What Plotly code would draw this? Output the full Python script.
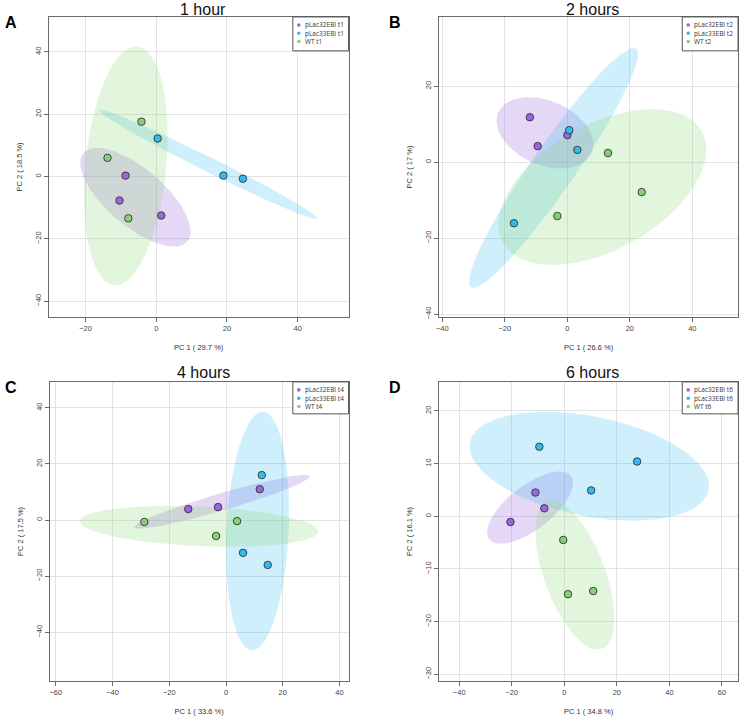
import numpy as np
import plotly.graph_objects as go

# ---------------- data ----------------
groups = ["pLac32EBI", "pLac33EBI", "WT"]
times = ["t1", "t2", "t4", "t6"]
panel_titles = ["1 hour", "2 hours", "4 hours", "6 hours"]
panel_letters = ["A", "B", "C", "D"]
pc1_var = ["29.7", "26.6", "33.6", "34.8"]
pc2_var = ["18.5", "17", "17.5", "16.1"]

# PC1 / PC2 scores per group (3 replicates each)
t1_pc1 = {"pLac32EBI": [-8.7, -10.4, 1.4], "pLac33EBI": [0.4, 19.0, 24.5], "WT": [-4.2, -13.8, -7.9]}
t1_pc2 = {"pLac32EBI": [0.3, -7.7, -12.5], "pLac33EBI": [12.2, 0.3, -0.7], "WT": [17.6, 6.0, -13.4]}
t2_pc1 = {"pLac32EBI": [-12.0, -9.5, 0.0], "pLac33EBI": [0.6, 3.2, -17.1], "WT": [13.0, 23.8, -3.2]}
t2_pc2 = {"pLac32EBI": [11.8, 4.2, 7.1], "pLac33EBI": [8.4, 3.2, -16.1], "WT": [2.4, -7.9, -14.2]}
t4_pc1 = {"pLac32EBI": [-13.3, -2.8, 11.9], "pLac33EBI": [12.6, 6.0, 14.7], "WT": [-28.8, 3.9, -3.5]}
t4_pc2 = {"pLac32EBI": [3.9, 4.6, 11.0], "pLac33EBI": [16.0, -11.7, -16.0], "WT": [-0.7, -0.4, -5.7]}
t6_pc1 = {"pLac32EBI": [-11.0, -7.6, -20.5], "pLac33EBI": [-9.5, 27.7, 10.2], "WT": [-0.4, 1.4, 11.0]}
t6_pc2 = {"pLac32EBI": [4.5, 1.5, -1.1], "pLac33EBI": [13.2, 10.4, 4.9], "WT": [-4.5, -14.8, -14.2]}

pc1_all = [t1_pc1, t2_pc1, t4_pc1, t6_pc1]
pc2_all = [t1_pc2, t2_pc2, t4_pc2, t6_pc2]

x_ranges = [[-30.4, 54.4], [-41, 54.6], [-62.1, 43.2], [-47.6, 66.1]]
y_ranges = [[-45.1, 51.2], [-40.8, 38.2], [-57.4, 49.2], [-31.3, 25.5]]
x_ticks = [[-20, 0, 20, 40], [-40, -20, 0, 20, 40], [-60, -40, -20, 0, 20, 40], [-40, -20, 0, 20, 40, 60]]
y_ticks = [[-40, -20, 0, 20, 40], [-40, -20, 0, 20], [-40, -20, 0, 20, 40], [-30, -20, -10, 0, 10, 20]]

colors = {"pLac32EBI": "#9966DD", "pLac33EBI": "#33BBEE", "WT": "#88D077"}
fills = {"pLac32EBI": "rgba(153,102,221,0.26)", "pLac33EBI": "rgba(51,187,238,0.24)", "WT": "rgba(140,215,120,0.25)"}

W, H = 740, 718
# plot-area boxes in pixels: (left, right, top, bottom)
boxes = [(46, 347, 17, 318), (438, 738, 17, 318), (47, 347, 383, 683), (438, 738, 383, 683)]


def px_x(p):
    return p / W


def px_y(p):
    return 1 - p / H


def conf_ellipse(xs, ys, n=120):
    xs = np.asarray(xs, float)
    ys = np.asarray(ys, float)
    cov = np.cov(xs, ys)
    t = np.sqrt(5.991464547107979)  # chi-square 0.95, 2 df
    sx, sy = np.sqrt(cov[0, 0]), np.sqrt(cov[1, 1])
    r = cov[0, 1] / (sx * sy)
    d = np.arccos(np.clip(r, -1, 1))
    a = np.linspace(0, 2 * np.pi, n)
    ex = t * sx * np.cos(a + d / 2) + xs.mean()
    ey = t * sy * np.cos(a - d / 2) + ys.mean()
    return ex, ey


fig = go.Figure()
annotations = []
shapes = []

for i in range(4):
    xa = "x" if i == 0 else f"x{i+1}"
    ya = "y" if i == 0 else f"y{i+1}"
    # ellipses
    for g in groups:
        ex, ey = conf_ellipse(pc1_all[i][g], pc2_all[i][g])
        fig.add_trace(go.Scatter(x=ex, y=ey, mode="lines", fill="toself", fillcolor=fills[g],
                                 line=dict(width=0), hoverinfo="skip", showlegend=False,
                                 xaxis=xa, yaxis=ya))
    # points
    for g in groups:
        fig.add_trace(go.Scatter(x=pc1_all[i][g], y=pc2_all[i][g], mode="markers",
                                 marker=dict(size=7.5, color=colors[g], line=dict(color="#333333", width=0.9)),
                                 name=f"{g} {times[i]}", showlegend=False, xaxis=xa, yaxis=ya))

    l, r, t, b = boxes[i]
    axis_common = dict(showgrid=True, gridcolor="#E3E3E3", gridwidth=1, zeroline=False,
                       showline=True, linecolor="#6A6A6A", linewidth=1, mirror=True,
                       ticks="outside", ticklen=4, tickcolor="#6A6A6A",
                       tickfont=dict(family="Liberation Sans", size=7.5, color="#444444"))
    xkey = "xaxis" if i == 0 else f"xaxis{i+1}"
    ykey = "yaxis" if i == 0 else f"yaxis{i+1}"
    fig.update_layout(**{
        xkey: dict(domain=[px_x(l), px_x(r)], anchor=ya, range=x_ranges[i],
                   tickmode="array", tickvals=x_ticks[i],
                   title=dict(text=f"PC 1 ( {pc1_var[i]} %)", standoff=12,
                              font=dict(family="Liberation Sans", size=7.5, color="#333333")),
                   **axis_common),
        ykey: dict(domain=[px_y(b), px_y(t)], anchor=xa, range=y_ranges[i],
                   tickmode="array", tickvals=y_ticks[i], tickangle=-90,
                   title=dict(text=f"PC 2 ( {pc2_var[i]} %)", standoff=10,
                              font=dict(family="Liberation Sans", size=7.5, color="#333333")),
                   **axis_common),
    })

    # panel title and letter
    annotations.append(dict(text=panel_titles[i], xref="paper", yref="paper",
                            x=px_x((l + r) / 2 + 4), y=px_y(t - 17 if i < 2 else t - 18.5),
                            xanchor="center", yanchor="top", borderpad=0,
                            showarrow=False, font=dict(family="Liberation Sans", size=16, color="#111111")))
    lx = 7 if i in (0, 2) else 393
    annotations.append(dict(text=f"<b>{panel_letters[i]}</b>", xref="paper", yref="paper",
                            x=px_x(lx - 7), y=px_y(t + 6), xanchor="left", yanchor="middle",
                            showarrow=False, font=dict(family="Liberation Sans", size=16, color="#000000")))

    # legend box (drawn manually so it stays compact)
    lg_h = 34 if i < 2 else 32
    shapes.append(dict(type="rect", xref="paper", yref="paper",
                       x0=px_x(r - 56), x1=px_x(r), y0=px_y(t + lg_h), y1=px_y(t),
                       line=dict(color="#555555", width=1), fillcolor="white", layer="above"))
    for k, g in enumerate(groups):
        cy = t + 8 + k * 8.3
        cx = r - 50
        shapes.append(dict(type="circle", xref="paper", yref="paper",
                           x0=px_x(cx - 1.8), x1=px_x(cx + 1.8), y0=px_y(cy + 1.8), y1=px_y(cy - 1.8),
                           line=dict(width=0), fillcolor=colors[g], layer="above"))
        annotations.append(dict(text=f"{g} {times[i]}", xref="paper", yref="paper",
                                x=px_x(cx + 4), y=px_y(cy), xanchor="left", yanchor="middle",
                                showarrow=False, font=dict(family="Open Sans", size=6.5, color="#333333")))

fig.update_layout(width=W, height=H, margin=dict(l=0, r=0, t=0, b=0),
                  paper_bgcolor="white", plot_bgcolor="white",
                  annotations=annotations, shapes=shapes, showlegend=False)

fig.write_html("out.html", config={"displayModeBar": False},
               post_script="document.body.style.margin='0px';document.body.style.overflow='hidden';")
